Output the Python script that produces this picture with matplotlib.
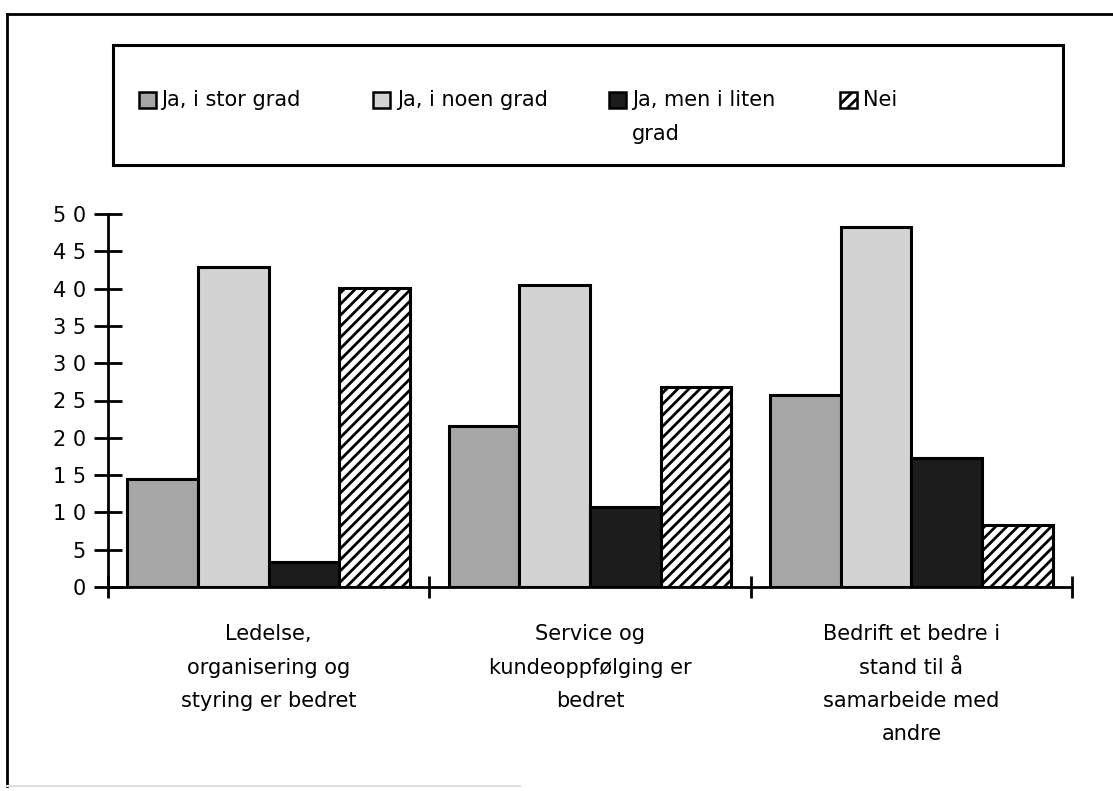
import matplotlib
matplotlib.use("Agg")
import matplotlib.pyplot as plt
from matplotlib.patches import Rectangle
from matplotlib.lines import Line2D
import numpy as np

plt.rcParams['font.family'] = ['DejaVu Sans']
plt.rcParams['hatch.linewidth'] = 2.0

categories = ["Ledelse,\norganisering og\nstyring er bedret",
              "Service og\nkundeoppfølging er\nbedret",
              "Bedrift et bedre i\nstand til å\nsamarbeide med\nandre"]
series_names = ["Ja, i stor grad", "Ja, i noen grad", "Ja, men i liten\ngrad", "Nei"]
stor_grad = [14.5, 21.6, 25.7]
noen_grad = [42.9, 40.5, 48.3]
liten_grad = [3.3, 10.7, 17.3]
nei = [40.1, 26.8, 8.3]
y_ticks = [0, 5, 10, 15, 20, 25, 30, 35, 40, 45, 50]
y_tick_labels = ["0", "5", "1 0", "1 5", "2 0", "2 5", "3 0", "3 5", "4 0", "4 5", "5 0"]

W, H = 1113, 791
fig = plt.figure(figsize=(W / 100, H / 100), dpi=100)

def fx(px):
    return px / W

def fy(py):
    return 1 - py / H

# outer frame (top and left)
fig.add_artist(Line2D([fx(7), 1.0], [fy(14), fy(14)], color='black', lw=2))
fig.add_artist(Line2D([fx(7), fx(7)], [fy(14), fy(786)], color='black', lw=2))
fig.add_artist(Line2D([fx(7), fx(520)], [fy(786), fy(786)], color='#dddddd', lw=1.5))

ax = fig.add_axes([fx(108), fy(587), fx(1072) - fx(108), fy(214) - fy(587)])

series = [stor_grad, noen_grad, liten_grad, nei]
colors = ['#a6a6a6', '#d3d3d3', '#1c1c1c', 'white']
hatches = [None, None, None, '///']
bw = 0.22
x = np.arange(len(categories)) + 0.5
for i, (vals, c, h) in enumerate(zip(series, colors, hatches)):
    ax.bar(x + (i - 1.5) * bw, vals, width=bw, color=c, edgecolor='black',
           linewidth=2.2, hatch=h, label=series_names[i], zorder=2)

ax.set_xlim(0, 3)
ax.set_ylim(0, 50)
for s in ['top', 'right']:
    ax.spines[s].set_visible(False)
for s in ['left', 'bottom']:
    ax.spines[s].set_linewidth(2)
    ax.spines[s].set_zorder(3)

ax.set_yticks(y_ticks)
ax.set_yticklabels(y_tick_labels, fontsize=15)
ax.tick_params(axis='y', direction='inout', length=20, width=2, pad=6)
ax.set_xticks([0, 1, 2, 3])
ax.set_xticklabels([])
ax.tick_params(axis='x', direction='inout', length=16, width=2)

for xi, cat in zip(x, categories):
    ax.text(xi, -0.10, cat, transform=ax.get_xaxis_transform(), ha='center', va='top',
            fontsize=15, linespacing=1.83)

# legend box (drawn by hand to match the original layout)
fig.add_artist(Rectangle((fx(113), fy(165)), fx(1063) - fx(113), fy(45) - fy(165),
                         fill=False, edgecolor='black', lw=2.2, transform=fig.transFigure))
sq_left = [139, 373, 609, 840]
txt_left = [161, 397, 632, 863]
for i, name in enumerate(series_names):
    fig.add_artist(Rectangle((fx(sq_left[i]), fy(108)), fx(17), 16 / H,
                             facecolor=colors[i], edgecolor='black', lw=1.8,
                             hatch=hatches[i], transform=fig.transFigure))
    fig.text(fx(txt_left[i]), fy(90), name, ha='left', va='top', fontsize=15,
             linespacing=1.85)

fig.savefig("out.png", dpi=100, facecolor='white')
